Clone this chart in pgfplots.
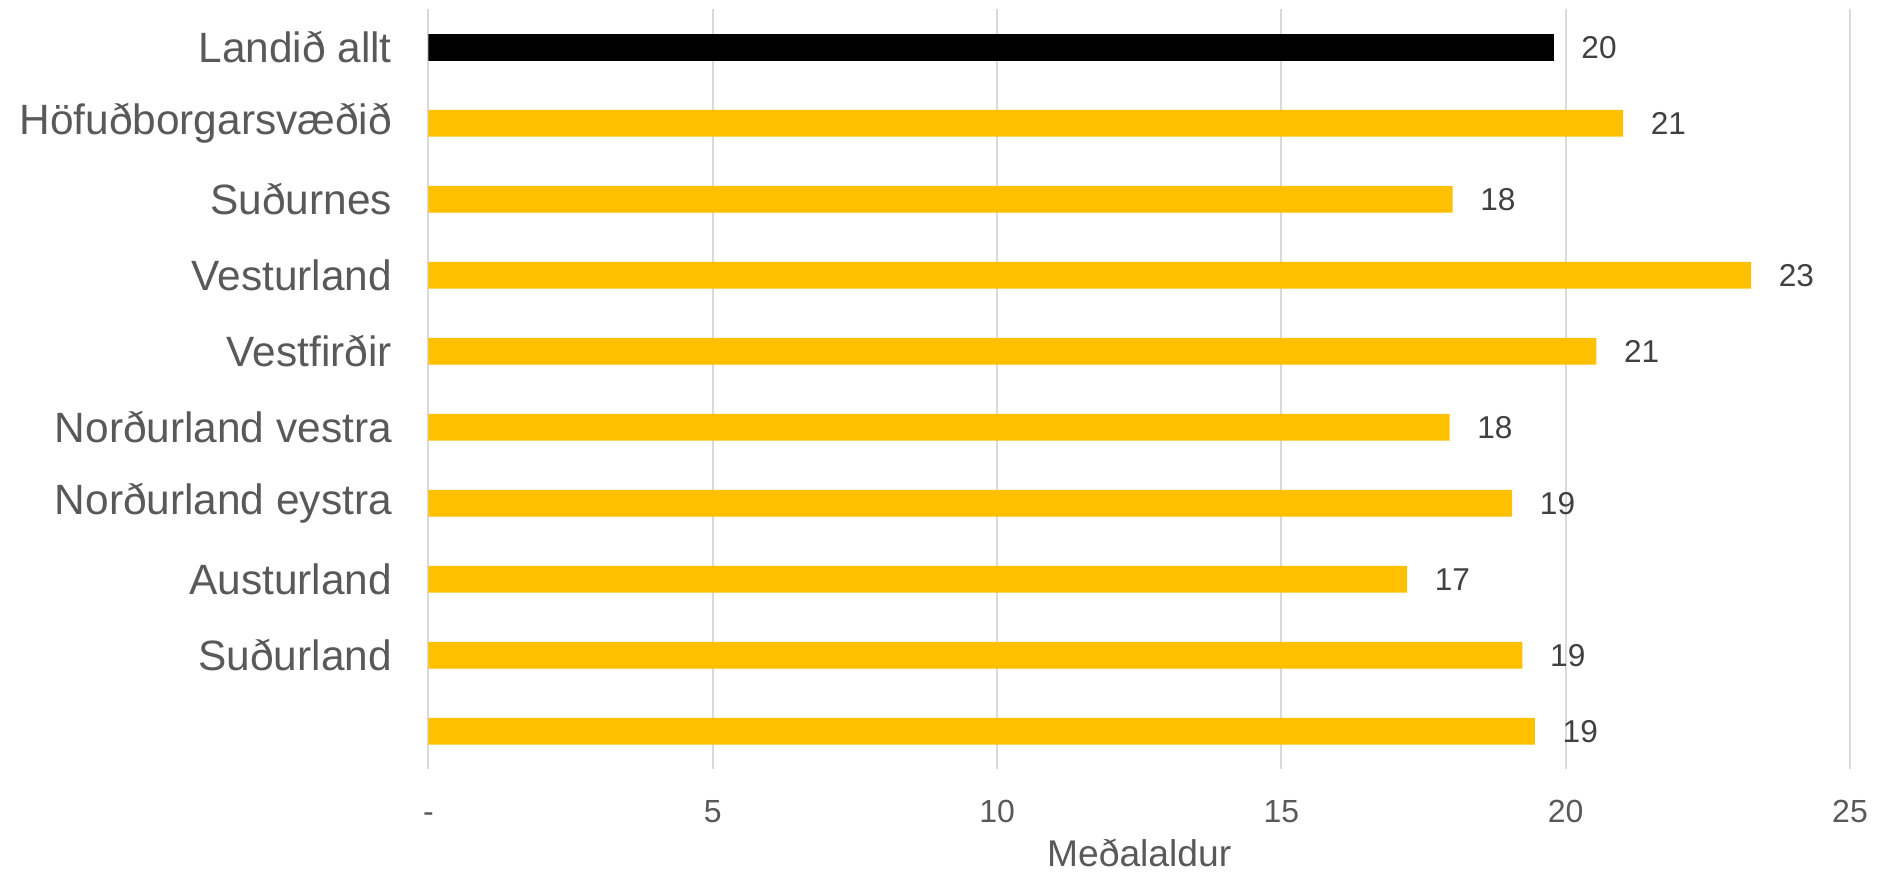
\documentclass[border=0pt]{standalone}
\usepackage{fontspec}
\setmainfont{Liberation Sans}
\usepackage{pgfplots}
\pgfplotsset{compat=1.18}
\definecolor{barY}{HTML}{FFC000}
\definecolor{gridc}{HTML}{D9D9D9}
\definecolor{lab}{HTML}{595959}
\definecolor{dlab}{HTML}{404040}

\begin{document}
\begin{tikzpicture}
\begin{axis}[
    width=355.4pt, height=190pt, scale only axis,
    xbar, bar width=6.7pt, bar shift=0pt,
    xmin=0, xmax=25, ymin=-0.5, ymax=9.5, y dir=reverse,
    xtick={0,5,10,15,20,25},
    xticklabels={-,5,10,15,20,25},
    ytick={0,1,2,3,4,5,6,7,8},
    yticklabels={Landið allt,Höfuðborgarsvæðið,Suðurnes,Vesturland,Vestfirðir,Norðurland vestra,Norðurland eystra,Austurland,Suðurland},
    xmajorgrids, grid style={draw=gridc, line width=0.45pt},
    axis line style={draw=none}, major tick length=0pt,
    /pgf/number format/assume math mode=true,
    xticklabel style={font=\fontsize{8pt}{9.6pt}\selectfont, text=lab, text height=5.7pt, text depth=0pt},
    xticklabel shift=4pt,
    yticklabel style={font=\fontsize{10.6pt}{12.7pt}\selectfont, text=lab},
    yticklabel shift=5.6pt,
    xlabel={Meðalaldur},
    every axis x label/.style={at={(axis description cs:0.5,0)}, anchor=center, yshift=-21pt, font=\fontsize{9.3pt}{11pt}\selectfont, text=lab},
    nodes near coords={\pgfmathprintnumber[fixed,precision=0]{\pgfplotspointmeta}},
    every node near coord/.append style={font=\fontsize{7.9pt}{9pt}\selectfont, text=dlab, anchor=west, xshift=3.4pt},
]
\addplot[draw=none, fill=black] coordinates {(19.79,0)};
\addplot[draw=none, fill=barY] coordinates {
  (21.01,1) (18.01,2) (23.26,3) (20.54,4) (17.96,5)
  (19.06,6) (17.21,7) (19.24,8) (19.46,9)
};
\coordinate (bl) at (axis description cs:0,0);
\coordinate (tr) at (axis description cs:1,1);
\end{axis}
\pgfresetboundingbox
\path[use as bounding box] ([shift={(-107.1pt,-25.5pt)}]bl) rectangle ([shift={(6.75pt,2.3pt)}]tr);
\end{tikzpicture}
\end{document}
